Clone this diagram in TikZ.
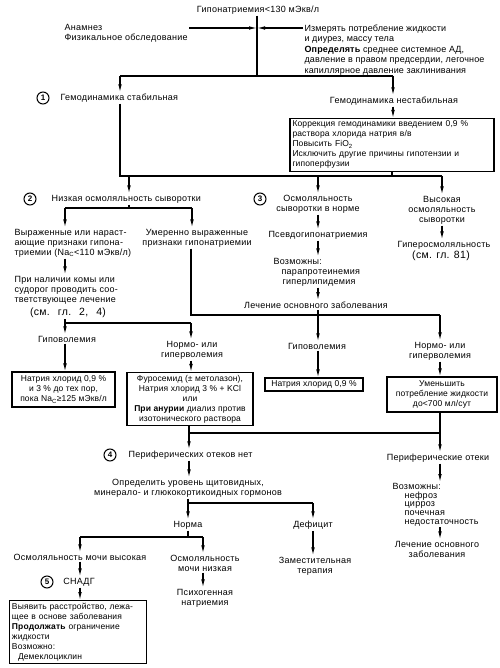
\documentclass[tikz,border=0pt]{standalone}
\usepackage{fontspec}
\setmainfont{Liberation Sans}
\newfontfamily\lblfont{Liberation Sans}[LetterSpace=3]
\newfontfamily\boxfont{Liberation Sans}[LetterSpace=1.5]
\usetikzlibrary{arrows.meta}
\tikzset{%
  >={Latex[width=3.6pt,length=8pt]},
  % Styles for the texts, boxes and numbered circles
            txt/.style = {align=center, inner sep=1pt,
                          font=\lblfont\fontsize{9}{10}\selectfont},
           txtl/.style = {txt, align=left},
            box/.style = {txt, rectangle, draw=black, line width=1.1pt,
                          inner sep=2.5pt, font=\boxfont\fontsize{8.5}{10}\selectfont},
            num/.style = {circle, draw=black, line width=1pt,
                          minimum size=12pt, inner sep=0pt,
                          font=\fontsize{8}{8}\selectfont\bfseries},
          chref/.style = {txt, font=\lblfont\fontsize{10.5}{11}\selectfont}
}

\begin{document}
\begin{tikzpicture}[x=1pt, y=-1pt, line width=1.1pt]
  \useasboundingbox (0,0) rectangle (499,668);

  % Top: the finding and the first examinations
  \node (hypo)   [txt]  at (258,10) {Гипонатриемия<130 мЭкв/л};
  \node (anam)   [txtl, anchor=west] at (63,33) {Анамнез\\Физикальное обследование};
  \node (meas)   [txtl, anchor=west, font=\boxfont\fontsize{9}{10.5}\selectfont] at (303,50) {Измерять потребление жидкости\\и диурез, массу тела\\\textbf{Определять} среднее системное АД,\\давление в правом предсердии, легочное\\капиллярное давление заклинивания};
  \coordinate (jin) at (257,28);
  \coordinate (j1)  at (257,76);
  \coordinate (s1)  at (120,76);
  \coordinate (u1)  at (393,76);
  \draw (hypo.south -| j1) -- (j1);
  \draw[->] (anam.east |- jin) -- (jin);
  \draw[->] (meas.west |- jin) -- (jin);
  \draw (s1) -- (u1);

  % 1: haemodynamics
  \node (n1)     [num] at (43,98) {1};
  \node (stab)   [txt, anchor=west] at (59,98) {Гемодинамика стабильная};
  \node (unst)   [txt] at (394,101) {Гемодинамика нестабильная};
  \node (corr)   [box, text width=199pt, align=left, anchor=north] at (392,118) {Коррекция гемодинамики введением 0,9 \%\\раствора хлорида натрия в/в\\Повысить FiO\textsubscript{2}\\Исключить другие причины гипотензии и\\гипоперфузии};
  \draw[->] (s1) -- (s1 |- stab.north);
  \draw[->] (u1) -- (u1 |- unst.north);
  \draw[->] (unst.south -| u1) -- (u1 |- corr.north);
  \coordinate (j2l) at (120,176);
  \coordinate (j2r) at (442,176);
  \coordinate (c2)  at (129,176);
  \coordinate (c3)  at (318,176);
  \draw (s1 |- stab.south) -- (j2l) -- (j2r);
  \draw (corr.south) -- (corr.south |- j2l);

  % 2 and 3: serum osmolality
  \node (n2)     [num] at (30,199) {2};
  \node (low)    [txt, anchor=west] at (50,199) {Низкая осмоляльность сыворотки};
  \node (n3)     [num] at (260,199) {3};
  \node (norm)   [txt] at (318,204) {Осмоляльность\\сыворотки в норме};
  \node (high)   [txt] at (442,210) {Высокая\\осмоляльность\\сыворотки};
  \draw[->] (c2) -- (c2 |- low.north);
  \draw[->] (c3) -- (c3 |- norm.north);
  \draw[->] (j2r) -- (j2r |- high.north);

  % low osmolality branch
  \coordinate (j3l) at (65,208);
  \coordinate (j3r) at (192,208);
  \node (sev)    [txtl, anchor=west] at (13,243) {Выраженные или нараст-\\ающие признаки гипона-\\триемии (Na\textsubscript{C}<110 мЭкв/л)};
  \node (mod)    [txt] at (197,238) {Умеренно выраженные\\признаки гипонатриемии};
  \node (coma)   [txtl, anchor=west] at (13,290) {При наличии комы или\\судорог проводить соо-\\тветствующее лечение};
  \node (comaref) [chref] at (68,313) {(см.\hspace{8pt}гл.\hspace{8pt}2,\hspace{8pt}4)};
  \draw (low.south -| c2) -- (c2 |- j3l);
  \draw (j3l) -- (j3r);
  \draw[->] (j3l) -- (j3l |- sev.north);
  \draw[->] (j3r) -- (j3r |- mod.north);
  \draw[->] (sev.south -| j3l) -- (j3l |- coma.north);

  % normal and high osmolality branches
  \node (pseudo) [txt] at (318,235) {Псевдогипонатриемия};
  \node (poss1)  [txtl, anchor=west] at (272,272) {Возможны:\\\hspace*{8pt}парапротеинемия\\\hspace*{9pt}гиперлипидемия};
  \node (treat1) [txt] at (316,305) {Лечение основного заболевания};
  \node (hyper)  [txt] at (444,245) {Гиперосмоляльность};
  \node (hyref)  [chref] at (441,256) {(см. гл. 81)};
  \draw[->] (norm.south -| c3) -- (c3 |- pseudo.north);
  \draw[->] (pseudo.south -| c3) -- (c3 |- poss1.north);
  \draw[->] (poss1.south -| c3) -- (c3 |- treat1.north);
  \draw[->] (high.south -| j2r) -- (j2r |- hyper.north);

  % volume status
  \coordinate (j4l) at (65,323);
  \coordinate (j4r) at (191,323);
  \coordinate (j5l) at (191,315);
  \coordinate (j5r) at (440,315);
  \draw (comaref.south -| j4l) -- (j4l) -- (j4r);
  \draw (mod.south -| j5l) -- (j5l) -- (j5r);
  \draw (treat1.south -| c3) -- (c3 |- j5l);
  \node (hyp1)   [txt] at (67,339) {Гиповолемия};
  \node (nrm1)   [txt] at (192,350) {Нормо- или\\гиперволемия};
  \node (hyp2)   [txt] at (317,346) {Гиповолемия};
  \node (nrm2)   [txt] at (440,351) {Нормо- или\\гиперволемия};
  \draw[->] (j4l) -- (j4l |- hyp1.north);
  \draw[->] (j4r) -- (j4r |- nrm1.north);
  \draw[->] (c3 |- j5l) -- (c3 |- hyp2.north);
  \draw[->] (j5r) -- (j5r |- nrm2.north);

  % treatment boxes
  \node (nacl1)  [box, minimum width=103pt, minimum height=35pt] at (63.5,389.5) {Натрия хлорид 0,9 \%\\и 3 \% до тех пор,\\пока Na\textsubscript{C}≥125 мЭкв/л};
  \node (furo)   [box, minimum width=126pt, minimum height=48pt] at (190,399) {Фуросемид (± метолазон),\\Натрия хлорид 3 \% + KCl\\или\\\textbf{При анурии} диализ против\\изотонического раствора};
  \node (nacl2)  [box, minimum width=98pt, minimum height=13pt] at (314,384.5) {Натрия хлорид 0,9 \%};
  \node (fluid)  [box, minimum width=110pt, minimum height=35pt] at (442,394.5) {Уменьшить\\потребление жидкости\\до<700 мл/сут};
  \draw[->] (hyp1.south -| j4l) -- (j4l |- nacl1.north);
  \draw[->] (nrm1.south -| j4r) -- (j4r |- furo.north);
  \draw[->] (hyp2.south -| c3) -- (c3 |- nacl2.north);
  \draw[->] (nrm2.south -| j5r) -- (j5r |- fluid.north);

  % 4: peripheral oedema
  \coordinate (j6l) at (189,433);
  \coordinate (j6r) at (440,433);
  \draw (furo.south -| j6l) -- (j6l) -- (j6r) -- (fluid.south -| j6r);
  \node (n4)     [num] at (110,455) {4};
  \node (noed)   [txt, anchor=west] at (127,455) {Периферических отеков нет};
  \node (edema)  [txt] at (438,458) {Периферические отеки};
  \node (horm)   [txt] at (188,488) {Определить уровень щитовидных,\\минерало- и глюкокортикоидных гормонов};
  \draw[->] (j6l) -- (j6l |- noed.north);
  \draw[->] (j6r) -- (j6r |- edema.north);
  \draw[->] (noed.south -| j6l) -- (j6l |- horm.north);

  % hormones
  \coordinate (j7l) at (188,503);
  \coordinate (j7r) at (313,503);
  \node (normal) [txt] at (188,525) {Норма};
  \node (defic)  [txt] at (313,525) {Дефицит};
  \draw (horm.south -| j7l) -- (j7l) -- (j7r);
  \draw[->] (j7l) -- (j7l |- normal.north);
  \draw[->] (j7r) -- (j7r |- defic.north);

  % urine osmolality
  \coordinate (j8l) at (80,537);
  \coordinate (j8r) at (203,537);
  \node (urhi)   [txt] at (80,557) {Осмоляльность мочи высокая};
  \node (urlo)   [txt] at (205,563) {Осмоляльность\\мочи низкая};
  \node (repl)   [txt] at (315,566) {Заместительная\\терапия};
  \node (psych)  [txt] at (205,598) {Психогенная\\натриемия};
  \draw (normal.south -| j7l) -- (j7l |- j8l);
  \draw (j8l) -- (j8r);
  \draw[->] (j8l) -- (j8l |- urhi.north);
  \draw[->] (j8r) -- (j8r |- urlo.north);
  \draw[->] (defic.south -| j7r) -- (j7r |- repl.north);
  \draw[->] (urlo.south -| j8r) -- (j8r |- psych.north);

  % 5: SIADH
  \node (n5)     [num] at (47,582) {5};
  \node (snadg)  [txt] at (79,582) {СНАДГ};
  \node (cause)  [box, text width=132pt, align=left, anchor=north] at (78,600) {Выявить расстройство, лежа-\\щее в основе заболевания\\\textbf{Продолжать} ограничение\\жидкости\\Возможно:\\\hspace*{6pt}Демеклоциклин};
  \draw[->] (urhi.south -| j8l) -- (j8l |- snadg.north);
  \draw[->] (snadg.south -| j8l) -- (j8l |- cause.north);

  % oedema branch
  \node (poss2)  [txtl, anchor=north west, font=\lblfont\fontsize{9}{8.6}\selectfont] at (391,482) {Возможны:\\\hspace*{12pt}нефроз\\\hspace*{12pt}цирроз\\\hspace*{12pt}почечная\\\hspace*{12pt}недостаточность};
  \node (treat2) [txt] at (437,549) {Лечение основного\\заболевания};
  \draw[->] (edema.south -| j6r) -- (j6r |- poss2.north);
  \draw[->] (poss2.south -| j6r) -- (j6r |- treat2.north);
\end{tikzpicture}
\end{document}
